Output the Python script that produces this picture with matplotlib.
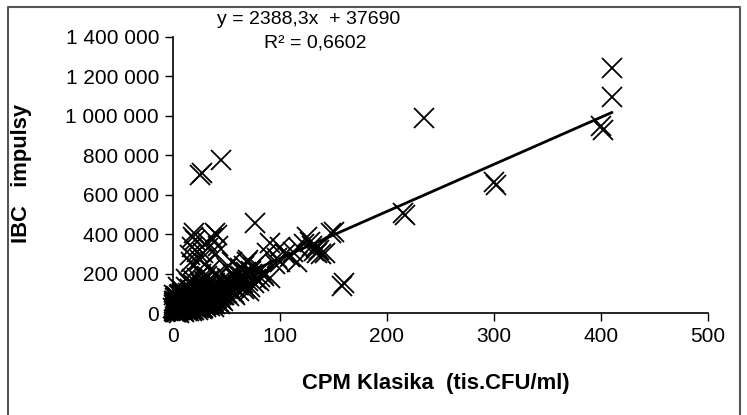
import numpy as np
import matplotlib.pyplot as plt
from matplotlib.ticker import FuncFormatter
from matplotlib.lines import Line2D

plt.rcParams['font.family'] = ['Liberation Sans', 'DejaVu Sans']

# CPM Klasika (tis.CFU/ml) and IBC impulsy (thousands)
cluster_x = [1, 2, 2, 3, 3, 4, 4, 5, 5, 6, 6, 7, 7, 8, 8, 9, 9, 10, 10, 11,
             11, 12, 12, 13, 13, 14, 14, 15, 15, 16, 16, 17, 17, 18, 18, 19, 19, 20, 20, 21,
             21, 22, 22, 23, 23, 24, 24, 25, 25, 26, 26, 27, 27, 28, 28, 29, 30, 30, 31, 31,
             32, 32, 33, 33, 34, 35, 35, 36, 36, 37, 38, 39, 40, 40, 41, 42, 43, 44, 45, 46,
             47, 48, 49, 50, 51, 52, 53, 55, 56, 57, 58, 60, 61, 62, 64, 65, 66, 68, 70, 72,
             74, 78, 82, 85, 3, 1, 0.5, 6, 10, 15, 20, 8, 12, 5, 2, 0.3, 4, 7, 9, 11,
             13, 0.8, 1.5, 2.5, 18, 24, 28, 33, 38, 44]
cluster_y = [20, 35, 60, 15, 45, 80, 30, 10, 55, 25, 70, 40, 95, 15, 60, 30, 110, 50, 75, 20,
             90, 40, 130, 65, 25, 100, 50, 80, 150, 35, 120, 60, 90, 45, 170, 75, 110, 30, 140, 60,
             95, 80, 180, 50, 120, 100, 70, 150, 40, 90, 200, 60, 130, 110, 80, 160, 50, 100, 130, 75,
             190, 90, 60, 140, 110, 80, 170, 100, 55, 130, 90, 150, 70, 115, 200, 95, 130, 80, 160, 110,
             60, 140, 100, 180, 120, 85, 150, 110, 200, 130, 90, 170, 140, 110, 190, 150, 120, 210, 160, 130,
             200, 170, 220, 190, 5, 60, 40, 0, 5, 10, 15, 100, 170, 130, 10, 25, 50, 20, 75, 45,
             35, 90, 15, 30, 20, 35, 25, 40, 30, 45]

dense_x = [0.5, 1, 1.5, 2, 3, 3.5, 4, 5, 6, 6.5, 7, 8, 9, 9.5, 10, 11, 12, 12.5, 13, 14,
           15, 16, 16.5, 17, 18, 19, 20, 21, 22, 23, 24, 25, 26, 27, 28, 29, 30, 31, 32, 33,
           34, 35, 36, 37, 38, 39, 40, 41, 42, 43, 44, 45, 46, 47, 48, 50, 52, 54, 3, 5,
           7, 9, 11, 13, 15, 17, 19, 21, 23, 25, 27, 29, 31, 33, 35, 37, 39, 41, 43, 45,
           2, 4, 6, 8, 10, 12, 14, 16, 18, 20, 22, 24, 26, 28, 30, 32, 34, 36, 38, 40]
dense_y = [10, 50, 75, 25, 85, 5, 55, 35, 90, 15, 65, 45, 80, 10, 35, 60, 20, 85, 50, 70,
           30, 55, 95, 20, 65, 40, 90, 50, 25, 75, 45, 105, 65, 30, 95, 55, 120, 40, 75, 100,
           60, 115, 85, 45, 110, 70, 95, 60, 125, 85, 105, 70, 135, 90, 120, 100, 130, 115, 30, 20,
           50, 15, 70, 10, 45, 25, 55, 35, 15, 65, 20, 40, 30, 50, 35, 60, 45, 75, 55, 90,
           5, 15, 45, 30, 85, 55, 20, 70, 10, 55, 105, 25, 75, 50, 85, 60, 90, 70, 60, 80]

mid_x = [50, 55, 60, 66, 70, 63, 73, 58, 69, 75, 81, 91, 95, 100, 105, 109, 112, 116, 118, 122,
         125, 128, 130, 134, 136, 138, 142, 88, 97, 91, 77, 48, 53, 57, 62, 67, 71, 76, 80, 84]
mid_y = [230, 260, 200, 240, 270, 228, 215, 180, 259, 233, 183, 178, 250, 260, 300, 284, 310, 259, 330, 350,
         386, 360, 340, 335, 320, 300, 304, 304, 279, 355, 456, 90, 120, 100, 140, 130, 110, 150, 160, 200]

upper_x = [16, 18, 19, 20, 28, 32, 39, 36, 42, 25, 22, 40, 30, 35, 19, 41, 21, 17, 33]
upper_y = [294, 335, 243, 406, 304, 360, 406, 380, 340, 270, 310, 300, 250, 220, 386, 396, 370, 260, 330]

outlier_x = [410, 410, 400, 402, 235, 300, 302, 215, 217, 160, 158, 150, 148, 45, 27, 25, 100, 135, 132]
outlier_y = [1245, 1095, 950, 930, 990, 665, 650, 505, 495, 150, 135, 411, 405, 775, 710, 700, 335, 304, 315]

slope = 2388.3
intercept = 37690

x = np.array(cluster_x + dense_x + mid_x + upper_x + outlier_x, dtype=float)
y = np.array(cluster_y + dense_y + mid_y + upper_y + outlier_y, dtype=float) * 1000

fig = plt.figure(figsize=(7.47, 4.15), dpi=100)
ax = fig.add_axes([173 / 747, 102 / 415, 535 / 747, 276 / 415])

ax.plot(x, y, linestyle='none', marker='x', markersize=14, markeredgewidth=1.3,
        color='black', zorder=2, clip_on=False)

xl = np.array([0, x.max()])
ax.plot(xl, slope * xl + intercept, color='black', linewidth=2, zorder=3)

ax.set_xlim(0, 500)
ax.set_ylim(0, 1400000)
ax.set_xticks(np.arange(0, 501, 100))
ax.set_yticks(np.arange(0, 1400001, 200000))
ax.yaxis.set_major_formatter(FuncFormatter(lambda v, p: f'{v:,.0f}'.replace(',', ' ')))
ax.tick_params(direction='out', length=6, width=1, labelsize=15, pad=4)
for s in ['top', 'right']:
    ax.spines[s].set_visible(False)
for s in ['left', 'bottom']:
    ax.spines[s].set_linewidth(1.2)

fig.text(436 / 747, 1 - 383 / 415, 'CPM Klasika  (tis.CFU/ml)', ha='center', va='center',
         fontsize=15.8, fontweight='bold')
fig.text(22 / 747, 1 - 173 / 415, 'IBC   impulsy', ha='center', va='center',
         rotation=90, fontsize=15.8, fontweight='bold')
fig.text(309 / 747, 1 - 20 / 415, 'y = 2388,3x  + 37690', ha='center', va='center', fontsize=14)
fig.text(315 / 747, 1 - 43 / 415, 'R² = 0,6602', ha='center', va='center', fontsize=14)

# outer frame
bx = [8 / 747, 8 / 747, 740 / 747, 740 / 747]
by = [-0.01, 1 - 7 / 415, 1 - 7 / 415, -0.01]
fig.add_artist(Line2D(bx, by, transform=fig.transFigure, color='#555555', linewidth=1.5))

fig.savefig('out.png', dpi=100)
